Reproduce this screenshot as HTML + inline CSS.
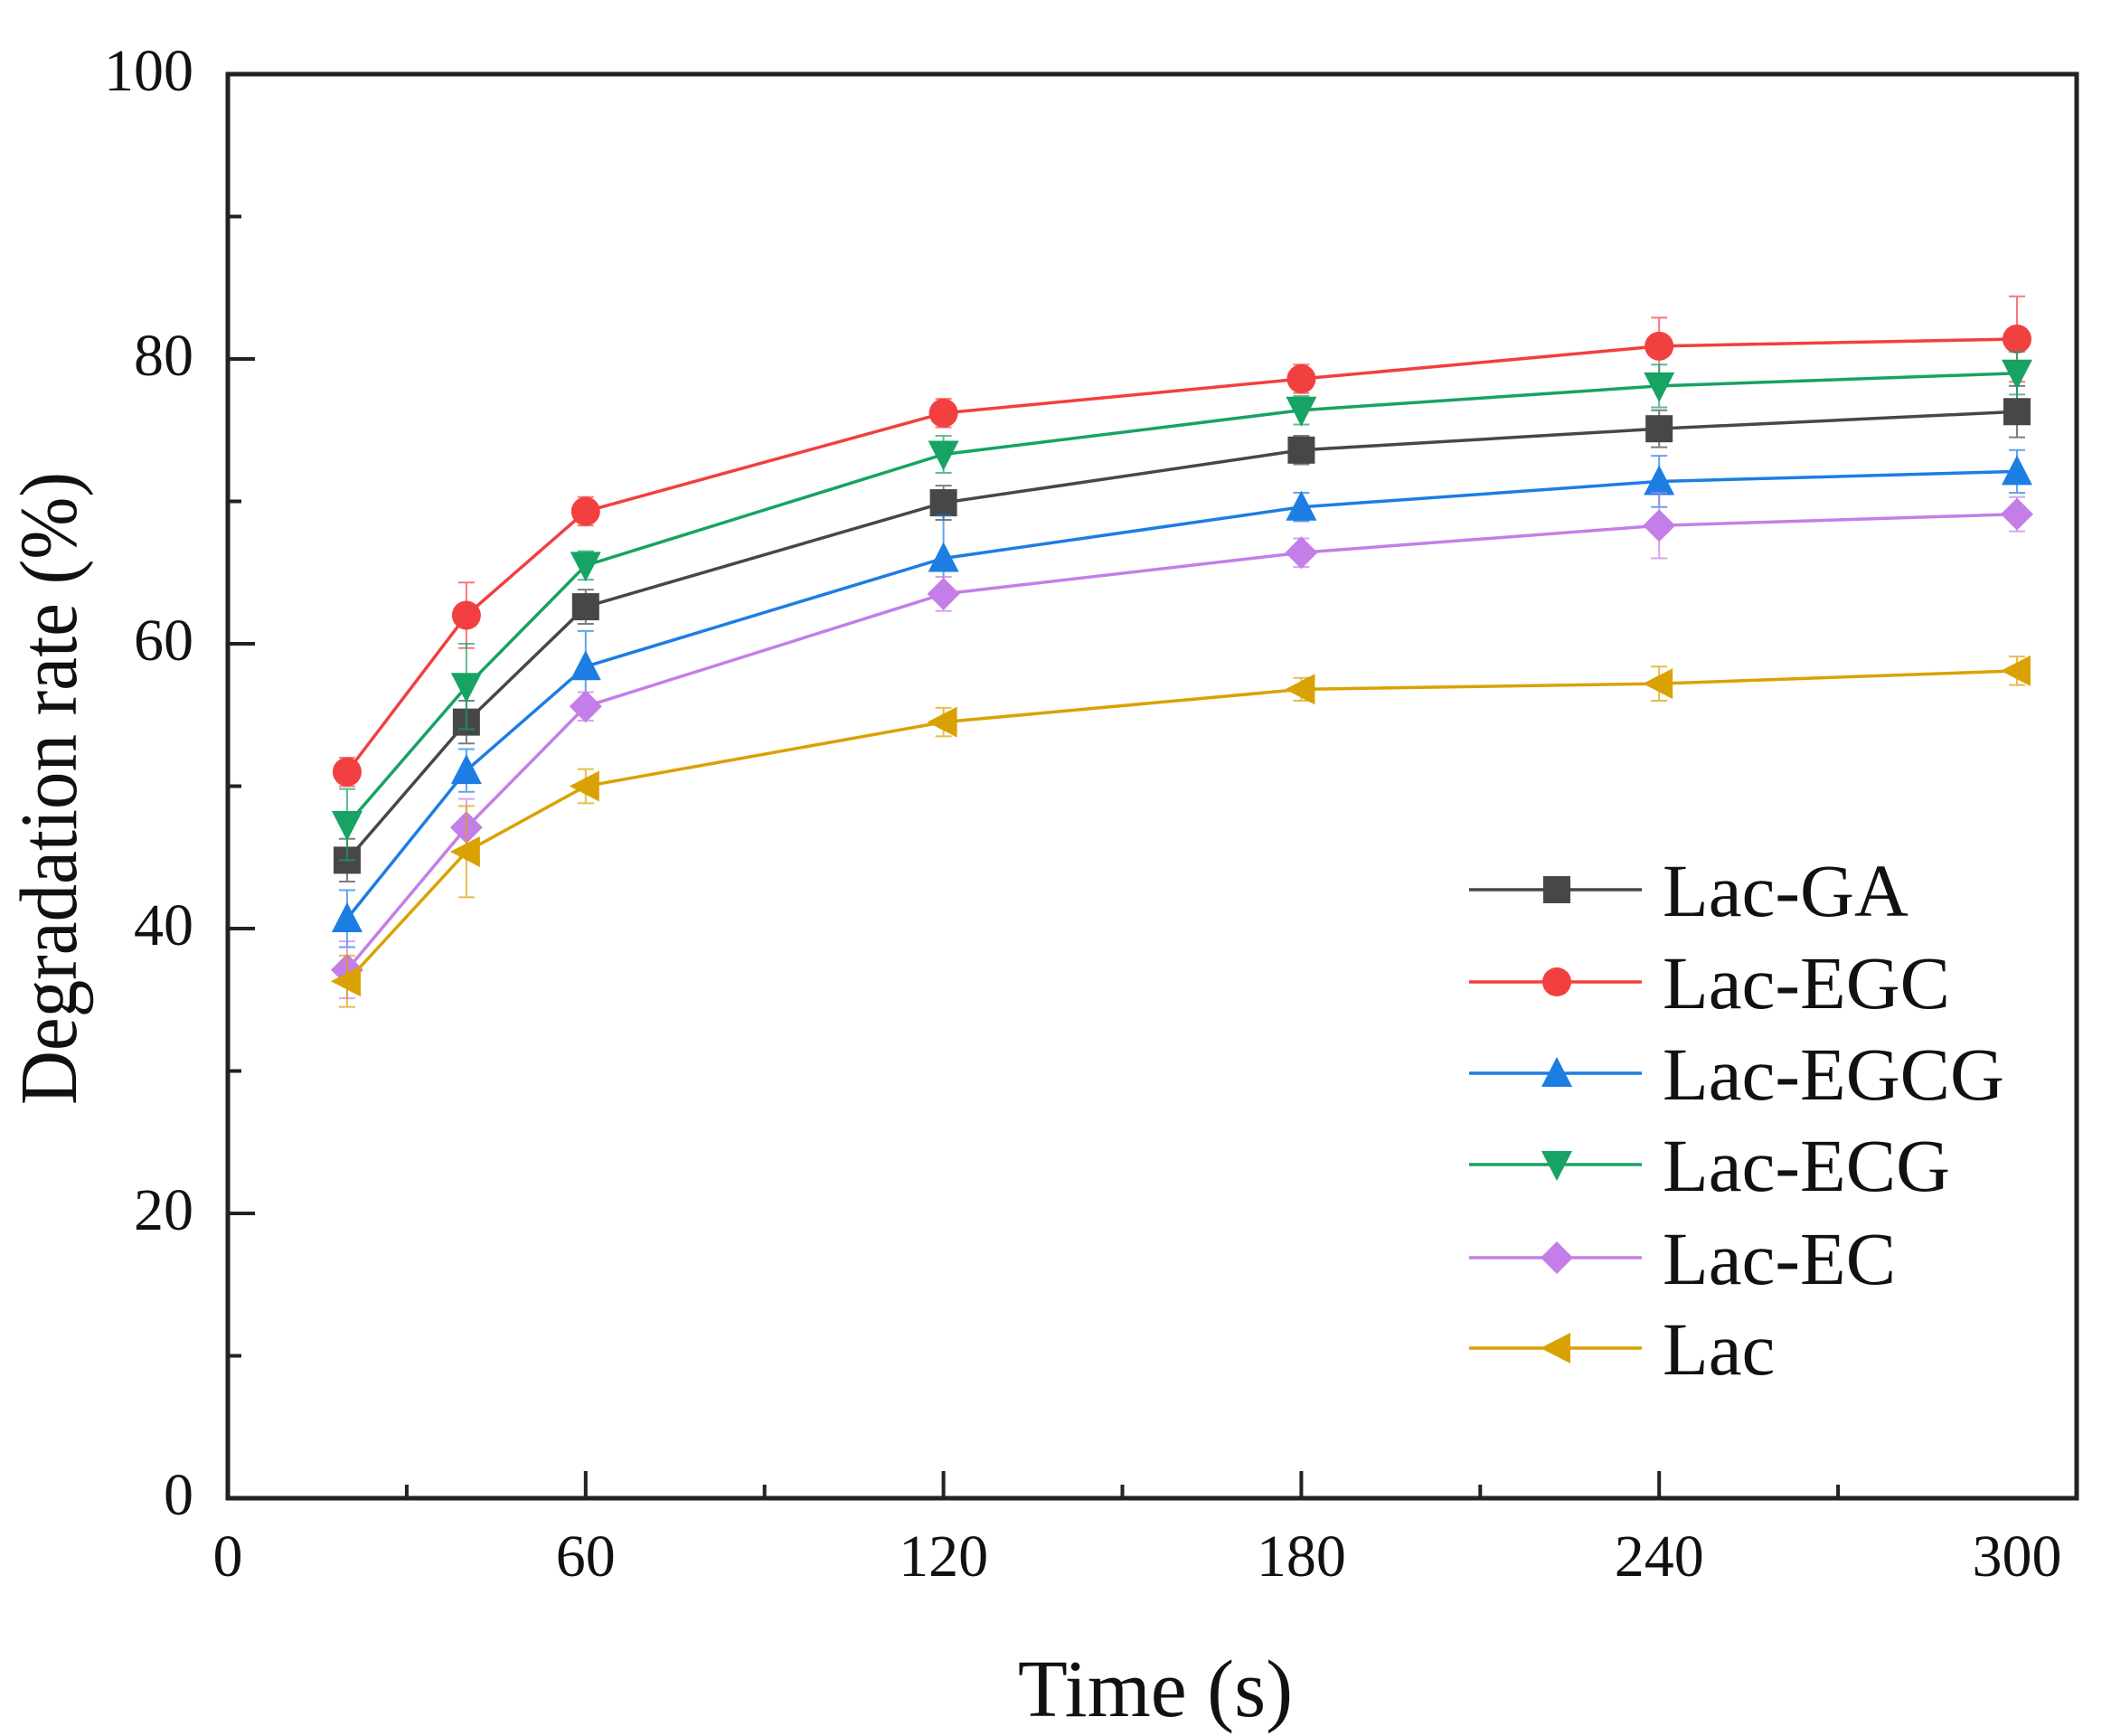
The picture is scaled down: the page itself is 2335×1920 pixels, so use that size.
<!DOCTYPE html>
<html><head><meta charset="utf-8"><style>
html,body{margin:0;padding:0;background:#fff;}
svg{display:block;font-family:"Liberation Serif",serif;}
</style></head><body>
<svg id="chart" width="2335" height="1920" viewBox="0 0 2335 1920" xmlns="http://www.w3.org/2000/svg"></svg>
<script>
const xValues=[20,40,60,120,180,240,300];
const seriesNames=["Lac-GA","Lac-EGC","Lac-EGCG","Lac-ECG","Lac-EC","Lac"];
const gaVals=[44.8,54.5,62.6,69.9,73.6,75.1,76.3];
const egcVals=[51.0,62.0,69.3,76.2,78.6,80.9,81.4];
const egcgVals=[40.7,51.1,58.4,66.0,69.6,71.4,72.1];
const ecgVals=[47.3,57.0,65.5,73.3,76.4,78.1,79.0];
const ecVals=[37.1,47.1,55.6,63.5,66.4,68.3,69.1];
const lacVals=[36.3,45.4,50.0,54.5,56.8,57.2,58.1];
const gaErr=[1.5,1.5,1.2,1.2,1.0,1.3,1.8];
const egcErr=[1.0,2.3,1.0,1.0,1.0,2.0,3.0];
const egcgErr=[2.0,1.5,2.5,3.0,1.0,1.8,1.5];
const ecgErr=[2.5,3.0,1.0,1.3,1.0,1.5,1.5];
const ecErr=[2.0,2.0,1.0,1.2,1.0,2.3,1.2];
const lacErr=[1.8,3.2,1.2,1.0,0.8,1.2,1.0];
const xTicks=[0,60,120,180,240,300];
const yTicks=[0,20,40,60,80,100];

const L=252,R=2297,T=82,B=1657;
const X=v=>L+(v)*(2231-252)/300;
const Y=v=>B-v*(B-T)/100;
const svg=document.getElementById('chart');
const NS='http://www.w3.org/2000/svg';
function mk(tag,attrs,parent){const e=document.createElementNS(NS,tag);for(const k in attrs)e.setAttribute(k,attrs[k]);(parent||svg).appendChild(e);return e;}

const series=[
 {vals:gaVals,err:gaErr,color:"#474747",marker:"square"},
 {vals:egcVals,err:egcErr,color:"#f23f3f",marker:"circle"},
 {vals:egcgVals,err:egcgErr,color:"#1c7de3",marker:"up"},
 {vals:ecgVals,err:ecgErr,color:"#16a363",marker:"down"},
 {vals:ecVals,err:ecErr,color:"#c47ee8",marker:"diamond"},
 {vals:lacVals,err:lacErr,color:"#daa102",marker:"left"}
];
function marker(type,cx,cy,color,g){
 const s=15;let e;
 if(type==="square")e=mk('rect',{x:cx-s,y:cy-s,width:2*s,height:2*s,fill:color},g);
 else if(type==="circle")e=mk('circle',{cx:cx,cy:cy,r:s+1,fill:color},g);
 else if(type==="up")e=mk('polygon',{points:`${cx},${cy-s-3} ${cx+s+2},${cy+s} ${cx-s-2},${cy+s}`,fill:color},g);
 else if(type==="down")e=mk('polygon',{points:`${cx},${cy+s+3} ${cx+s+2},${cy-s} ${cx-s-2},${cy-s}`,fill:color},g);
 else if(type==="diamond")e=mk('polygon',{points:`${cx},${cy-s-3} ${cx+s+3},${cy} ${cx},${cy+s+3} ${cx-s-3},${cy}`,fill:color},g);
 else e=mk('polygon',{points:`${cx-s-3},${cy} ${cx+s},${cy-s-2} ${cx+s},${cy+s+2}`,fill:color},g);
 return e;
}

series.forEach((s,i)=>{
 const g=mk('g',{});
 
 
 const pts=s.vals.map((v,j)=>X(xValues[j])+','+Y(v)).join(' ');
 const line=mk('polyline',{points:pts,fill:'none',stroke:s.color,'stroke-width':3.5},g);
 
 
 s.vals.forEach((v,j)=>{
  const cx=X(xValues[j]),e=s.err[j];
  const eb=mk('path',{d:`M${cx},${Y(v-e)}V${Y(v+e)}M${cx-9},${Y(v-e)}H${cx+9}M${cx-9},${Y(v+e)}H${cx+9}`,stroke:s.color,'stroke-width':2,fill:'none',opacity:0.7},g);
  
  
  const m=marker(s.marker,cx,Y(v),s.color,g);
  
  
 });
});

const frame=mk('rect',{x:L,y:T,width:R-L,height:B-T,fill:'none',stroke:'#222','stroke-width':5});



for(let v=30;v<300;v+=30){
 const major=v%60===0;
 const t=mk('line',{x1:X(v),x2:X(v),y1:B,y2:B-(major?30:15),stroke:'#222','stroke-width':4});
 
 
}
xTicks.forEach(v=>{
 const t=mk('text',{x:X(v),y:1743,'font-size':66,'text-anchor':'middle',fill:'#111'});
 t.textContent=v;
 
 
});
for(let v=10;v<100;v+=10){
 const major=v%20===0;
 const t=mk('line',{x1:L,x2:L+(major?30:15),y1:Y(v),y2:Y(v),stroke:'#222','stroke-width':4});
 
 
}
yTicks.forEach(v=>{
 const t=mk('text',{x:214,y:Y(v)+18,'font-size':66,'text-anchor':'end',fill:'#111'});
 t.textContent=v;
 
 
});
const xt=mk('text',{x:1278,y:1898,'font-size':90,'text-anchor':'middle',fill:'#111'});
xt.textContent='Time (s)';


const yt=mk('text',{x:0,y:0,'font-size':90,'text-anchor':'middle',fill:'#111',textLength:700,lengthAdjust:'spacingAndGlyphs',transform:'translate(84,872) rotate(-90)'});
yt.textContent='Degradation rate (%)';



const legendY=[984,1086,1187,1288,1391,1491];
const lg=mk('g',{});


series.forEach((s,i)=>{
 const g=mk('g',{},lg);
 
 
 const y=legendY[i];
 mk('line',{x1:1625,x2:1816,y1:y,y2:y,stroke:s.color,'stroke-width':3.5},g);
 marker(s.marker,1722,y,s.color,g);
 const t=mk('text',{x:1839,y:y+29,'font-size':83,fill:'#111'},g);
 t.textContent=seriesNames[i];
});
</script>
</body></html>
